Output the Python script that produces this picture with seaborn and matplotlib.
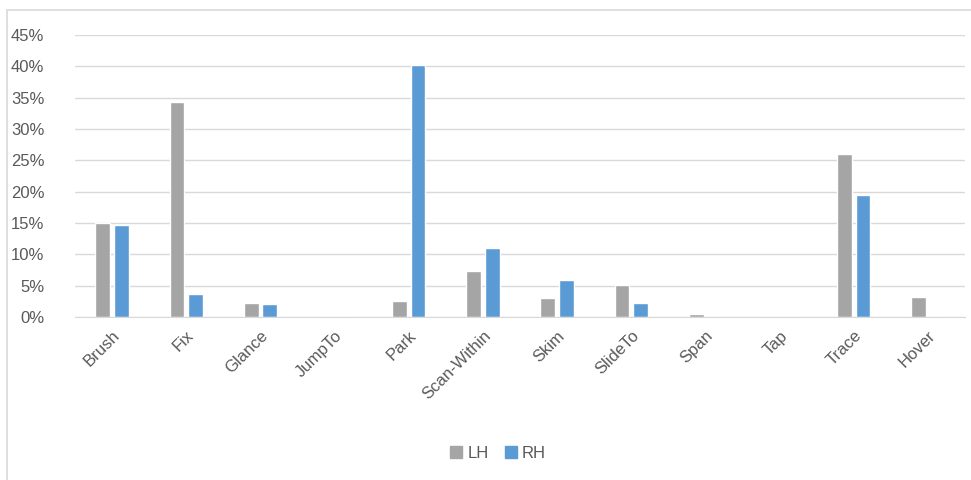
import matplotlib
matplotlib.use("Agg")
import matplotlib.pyplot as plt
import seaborn as sns
import pandas as pd
from matplotlib.lines import Line2D
from matplotlib.ticker import PercentFormatter

categories = ["Brush", "Fix", "Glance", "JumpTo", "Park", "Scan-Within",
              "Skim", "SlideTo", "Span", "Tap", "Trace", "Hover"]
lh_values = [15.0, 34.3, 2.3, 0.0, 2.6, 7.4, 3.1, 5.1, 0.5, 0.0, 26.0, 3.2]
rh_values = [14.7, 3.7, 2.0, 0.0, 40.2, 11.0, 5.9, 2.3, 0.0, 0.0, 19.5, 0.0]
series_names = ["LH", "RH"]
colors = ["#A5A5A5", "#5B9BD5"]

df = pd.DataFrame({
    "cat": categories * 2,
    "val": lh_values + rh_values,
    "hand": [series_names[0]] * len(categories) + [series_names[1]] * len(categories),
})

sns.set_style("white")
plt.rcParams["font.family"] = ["Liberation Sans", "DejaVu Sans"]

fig = plt.figure(figsize=(9.71, 4.80), dpi=100)
ax = fig.add_axes([75 / 971, 1 - 317 / 480, 890 / 971, (317 - 35) / 480])

sns.barplot(data=df, x="cat", y="val", hue="hand", palette=colors,
            width=0.5, gap=0.2, ax=ax, legend=False, saturation=1)

ax.set_ylim(0, 45)
ax.set_yticks(range(0, 46, 5))
ax.yaxis.set_major_formatter(PercentFormatter(decimals=0))
ax.set_xlim(-0.5, len(categories) - 0.5)
ax.grid(axis="y", color="#D9D9D9", linewidth=1)
ax.set_axisbelow(True)
for s in ["top", "right", "left"]:
    ax.spines[s].set_visible(False)
ax.spines["bottom"].set_color("#D9D9D9")
ax.set_xlabel("")
ax.set_ylabel("")
ax.tick_params(axis="both", length=0, colors="#595959", labelsize=12)
ax.tick_params(axis="y", pad=22)
plt.setp(ax.get_xticklabels(), rotation=45, ha="right", rotation_mode="anchor")
ax.tick_params(axis="x", pad=8)

handles = [plt.Rectangle((0, 0), 1, 1, color=c) for c in colors]
fig.legend(handles, series_names, loc="center", bbox_to_anchor=(0.513, 0.056),
           ncol=2, frameon=False, fontsize=12, handlelength=0.7, handleheight=0.7,
           handletextpad=0.3, columnspacing=1.0, labelcolor="#595959")

# chart border (left and top)
fig.add_artist(Line2D([7 / 971, 7 / 971], [0, 1 - 10 / 480], color="#D9D9D9",
                      linewidth=1.2, transform=fig.transFigure))
fig.add_artist(Line2D([7 / 971, 1], [1 - 10 / 480, 1 - 10 / 480], color="#D9D9D9",
                      linewidth=1.2, transform=fig.transFigure))

fig.savefig("out.png", dpi=100)
